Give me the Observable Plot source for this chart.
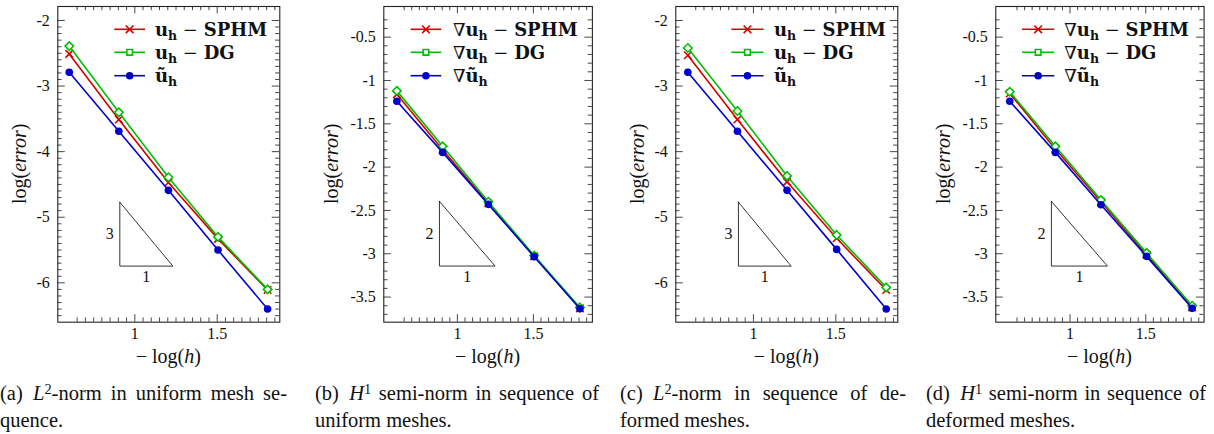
<!DOCTYPE html>
<html><head><meta charset="utf-8">
<script src="https://cdn.jsdelivr.net/npm/d3@7"></script>
<script src="https://cdn.jsdelivr.net/npm/@observablehq/plot@0.6"></script>
<style>
body{margin:0;background:#fff;}
#root{position:relative;width:1214px;height:434px;overflow:hidden;font-family:"Liberation Serif",serif;color:#111;}
.panel{position:absolute;top:0;}
.cap{position:absolute;top:380px;font-size:20.5px;line-height:27px;font-family:"Liberation Serif",serif;}
.cap .l1{text-align:justify;text-align-last:justify;}
.cap sup{font-size:0.7em;line-height:0;vertical-align:0.45em;}
</style>
</head><body><div id="root"></div>
<script>
// ---- data ----
const xLogH = [0.602, 0.903, 1.204, 1.505, 1.806];   // -log(h)

const a_sphm  = [-2.51, -3.51, -4.47, -5.33, -6.11];
const a_dg    = [-2.39, -3.40, -4.39, -5.30, -6.10];
const a_tilde = [-2.79, -3.69, -4.59, -5.50, -6.40];

const b_sphm  = [-1.16, -1.80, -2.42, -3.03, -3.63];
const b_dg    = [-1.12, -1.76, -2.40, -3.02, -3.62];
const b_tilde = [-1.24, -1.83, -2.43, -3.035, -3.635];

const c_sphm  = [-2.53, -3.51, -4.46, -5.32, -6.11];
const c_dg    = [-2.42, -3.38, -4.37, -5.27, -6.07];
const c_tilde = [-2.79, -3.69, -4.59, -5.49, -6.40];

const d_sphm  = [-1.15, -1.79, -2.40, -3.01, -3.62];
const d_dg    = [-1.13, -1.76, -2.38, -2.99, -3.60];
const d_tilde = [-1.24, -1.83, -2.435, -3.03, -3.63];

const xTickValues = [1, 1.5];
const xTickLabels = ["1", "1.5"];
const yTicksL2 = [-2, -3, -4, -5, -6];
const yTickLabelsL2 = ["-2", "-3", "-4", "-5", "-6"];
const yTicksH1 = [-0.5, -1, -1.5, -2, -2.5, -3, -3.5];
const yTickLabelsH1 = ["-0.5", "-1", "-1.5", "-2", "-2.5", "-3", "-3.5"];

const seriesColors = ["#d40000", "#00bf00", "#0000cc"];
const seriesSymbols = ["times", "diamond2", "circle"];
const legendSymbols = [d3.symbolTimes, d3.symbolSquare2, d3.symbolCircle];

const legendL2 = [
  [{t: "u", b: 1}, {t: "h", b: 1, sub: 1}, {t: " − ", b: 0}, {t: "SPHM", b: 1}],
  [{t: "u", b: 1}, {t: "h", b: 1, sub: 1}, {t: " − ", b: 0}, {t: "DG", b: 1}],
  [{t: "ũ", b: 1}, {t: "h", b: 1, sub: 1}]
];
const legendH1 = [
  [{t: "∇", b: 0}, {t: "u", b: 1}, {t: "h", b: 1, sub: 1}, {t: " − ", b: 0}, {t: "SPHM", b: 1}],
  [{t: "∇", b: 0}, {t: "u", b: 1}, {t: "h", b: 1, sub: 1}, {t: " − ", b: 0}, {t: "DG", b: 1}],
  [{t: "∇", b: 0}, {t: "ũ", b: 1}, {t: "h", b: 1, sub: 1}]
];

// slope triangles (data coordinates)
const triA_x = [0.909, 0.909, 1.231], triA_y = [-4.77, -5.745, -5.745], triA_lab = ["3", "1"];
const triB_x = [0.882, 0.882, 1.248], triB_y = [-2.396, -3.142, -3.142], triB_lab = ["2", "1"];
const triC_x = [0.909, 0.909, 1.229], triC_y = [-4.77, -5.745, -5.745], triC_lab = ["3", "1"];
const triD_x = [0.877, 0.877, 1.247], triD_y = [-2.396, -3.142, -3.142], triD_lab = ["2", "1"];

const captions = [
  ["(a)&ensp;<i>L</i><sup>2</sup>-norm in uniform mesh se-", "quence."],
  ["(b)&ensp;<i>H</i><sup>1</sup> semi-norm in sequence of", "uniform meshes."],
  ["(c)&ensp;<i>L</i><sup>2</sup>-norm in sequence of de-", "formed meshes."],
  ["(d)&ensp;<i>H</i><sup>1</sup> semi-norm in sequence of", "deformed meshes."]
];

// minor tick positions
const xMinor = d3.range(13, 38).filter(i => i % 10 !== 0).map(i => i * 0.05);
const yMinorL2 = d3.range(-65, -20).filter(i => i % 10 !== 0).map(i => i / 10);
const yMinorH1 = d3.range(-37, -2).filter(i => i % 5 !== 0).map(i => i / 10);

const panels = [
  {svgLeft: 0, frameW: 222, xDomain: [0.5325, 1.88], yDomain: [-6.60, -1.787], yTicks: yTicksL2, yLabels: yTickLabelsL2, yMinor: yMinorL2,
   series: [a_sphm, a_dg, a_tilde], tri: [triA_x, triA_y, triA_lab], legend: legendL2, lg: {x1: 57, x2: 87.7, tx: 97.7}, ylabOff: 37.3, cap: {left: 0, w: 287}},
  {svgLeft: 326.4, frameW: 208.6, xDomain: [0.516, 1.888], yDomain: [-3.79, -0.146], yTicks: yTicksH1, yLabels: yTickLabelsH1, yMinor: yMinorH1,
   series: [b_sphm, b_dg, b_tilde], tri: [triB_x, triB_y, triB_lab], legend: legendH1, lg: {x1: 27.3, x2: 58, tx: 69.6}, ylabOff: 52, cap: {left: 315, w: 284}},
  {svgLeft: 618.4, frameW: 222, xDomain: [0.529, 1.876], yDomain: [-6.60, -1.787], yTicks: yTicksL2, yLabels: yTickLabelsL2, yMinor: yMinorL2,
   series: [c_sphm, c_dg, c_tilde], tri: [triC_x, triC_y, triC_lab], legend: legendL2, lg: {x1: 56, x2: 88.3, tx: 98.6}, ylabOff: 37.4, cap: {left: 620, w: 286}},
  {svgLeft: 937.7, frameW: 208.3, xDomain: [0.51, 1.885], yDomain: [-3.79, -0.146], yTicks: yTicksH1, yLabels: yTickLabelsH1, yMinor: yMinorH1,
   series: [d_sphm, d_dg, d_tilde], tri: [triD_x, triD_y, triD_lab], legend: legendH1, lg: {x1: 26.7, x2: 59, tx: 69}, ylabOff: 51.7, cap: {left: 926, w: 280}}
];

const root = document.getElementById("root");
const mL = 57.3, mT = 6, plotH = 315.7, mB = 50.3, mR = 10;
const legendRows = [23.3, 46.3, 69.7];
const serif = "Liberation Serif";

panels.forEach((p, pi) => {
  const width = mL + p.frameW + mR;
  const height = mT + plotH + mB;
  const [x0, x1] = p.xDomain, [y0, y1] = p.yDomain;
  const kx = p.frameW / (x1 - x0), ky = plotH / (y1 - y0);
  const tickStroke = "#333";
  const ticks = (xs, ys, len) => [
    Plot.ruleX(xs, {x: d => d, y1: y0, y2: y0 + len / ky, stroke: tickStroke, strokeWidth: 0.9}),
    Plot.ruleX(xs, {x: d => d, y1: y1, y2: y1 - len / ky, stroke: tickStroke, strokeWidth: 0.9}),
    Plot.ruleY(ys, {y: d => d, x1: x0, x2: x0 + len / kx, stroke: tickStroke, strokeWidth: 0.9}),
    Plot.ruleY(ys, {y: d => d, x1: x1, x2: x1 - len / kx, stroke: tickStroke, strokeWidth: 0.9})
  ];
  const seriesMarks = p.series.flatMap((vals, si) => {
    const rows = xLogH.map((x, i) => ({x, y: vals[i]}));
    const sym = seriesSymbols[si];
    const dotOpts = sym === "circle" ? {r: 3.8, fill: seriesColors[si], stroke: "none"}
      : sym === "diamond2" ? {r: 3.8, fill: "white", stroke: seriesColors[si], strokeWidth: 1.6}
      : {r: 3.5, stroke: seriesColors[si], strokeWidth: 1.6};
    return [
      Plot.line(rows, {x: "x", y: "y", stroke: seriesColors[si], strokeWidth: 1.6}),
      Plot.dot(rows, {x: "x", y: "y", symbol: sym, ...dotOpts})
    ];
  });
  const [tx, ty, tlab] = p.tri;
  const triPts = tx.map((x, i) => ({x, y: ty[i]})).concat([{x: tx[0], y: ty[0]}]);
  const txt = {fontSize: 16, fill: "#111", fontFamily: serif};
  const plot = Plot.plot({
    width, height, marginLeft: mL, marginRight: mR, marginTop: mT, marginBottom: mB,
    x: {domain: p.xDomain, axis: null},
    y: {domain: p.yDomain, axis: null},
    style: {fontFamily: "'Liberation Serif', serif", fontSize: "16px", background: "white", overflow: "visible", color: "#111"},
    marks: [
      ...ticks(xMinor, p.yMinor, 4.2),
      ...ticks(xTickValues, p.yTicks, 7.5),
      Plot.line(triPts, {x: "x", y: "y", stroke: "black", strokeWidth: 0.8}),
      Plot.text([tlab[0]], {x: tx[0], y: (ty[0] + ty[1]) / 2, dx: -10, text: d => d, ...txt}),
      Plot.text([tlab[1]], {x: (tx[1] + tx[2]) / 2, y: ty[1], dy: 11, text: d => d, ...txt}),
      ...seriesMarks,
      Plot.text(xTickValues, {x: d => d, y: y0, dy: 12, text: (d, i) => xTickLabels[i], ...txt}),
      Plot.text(p.yTicks, {x: x0, y: d => d, dx: -8, textAnchor: "end", text: (d, i) => p.yLabels[i], ...txt}),
      Plot.frame({stroke: "#222", strokeWidth: 1.1})
    ]
  });
  const svg = d3.select(plot);
  // axis labels
  const xl = svg.append("text").attr("x", mL + p.frameW / 2).attr("y", mT + plotH + 41)
    .attr("text-anchor", "middle").attr("font-size", 20).attr("fill", "#111").attr("font-family", serif);
  xl.append("tspan").text("− log(");
  xl.append("tspan").attr("font-style", "italic").text("h");
  xl.append("tspan").text(")");
  const yl = svg.append("text").attr("transform", `translate(${mL - p.ylabOff},${mT + plotH / 2}) rotate(-90)`)
    .attr("dy", "0.32em").attr("text-anchor", "middle").attr("font-size", 20).attr("fill", "#111").attr("font-family", serif);
  yl.append("tspan").text("log(");
  yl.append("tspan").attr("font-style", "italic").text("error");
  yl.append("tspan").text(")");
  // legend
  const g = svg.append("g").attr("text-anchor", "start");
  p.legend.forEach((parts, i) => {
    const y = mT + legendRows[i];
    const lx1 = mL + p.lg.x1, lx2 = mL + p.lg.x2, mx = (lx1 + lx2) / 2;
    g.append("line").attr("x1", lx1).attr("x2", lx2).attr("y1", y).attr("y2", y)
      .attr("stroke", seriesColors[i]).attr("stroke-width", 1.6);
    const sym = d3.symbol(legendSymbols[i], i === 2 ? 44 : 40)();
    g.append("path").attr("d", sym).attr("transform", `translate(${mx},${y})`)
      .attr("fill", i === 2 ? seriesColors[i] : (i === 1 ? "white" : "none"))
      .attr("stroke", i === 2 ? "none" : seriesColors[i]).attr("stroke-width", 1.6);
    const t = g.append("text").attr("x", mL + p.lg.tx).attr("y", y + 6.5).attr("text-anchor", "start")
      .attr("font-family", "DejaVu Serif").attr("font-size", 18).attr("fill", "#111");
    let shifted = false;
    parts.forEach(pt => {
      const ts = t.append("tspan").text(pt.t).attr("font-weight", pt.b ? "bold" : "normal");
      if (pt.sub) { ts.attr("font-size", 12.5).attr("dy", 4); shifted = true; }
      else if (shifted) { ts.attr("dy", -4); shifted = false; }
    });
  });
  const wrap = document.createElement("div");
  wrap.className = "panel";
  wrap.style.left = p.svgLeft + "px";
  wrap.appendChild(plot);
  root.appendChild(wrap);
  const cap = document.createElement("div");
  cap.className = "cap";
  cap.style.left = p.cap.left + "px";
  cap.style.width = p.cap.w + "px";
  cap.innerHTML = `<div class="l1">${captions[pi][0]}</div><div>${captions[pi][1]}</div>`;
  root.appendChild(cap);
});
</script>
</body></html>
